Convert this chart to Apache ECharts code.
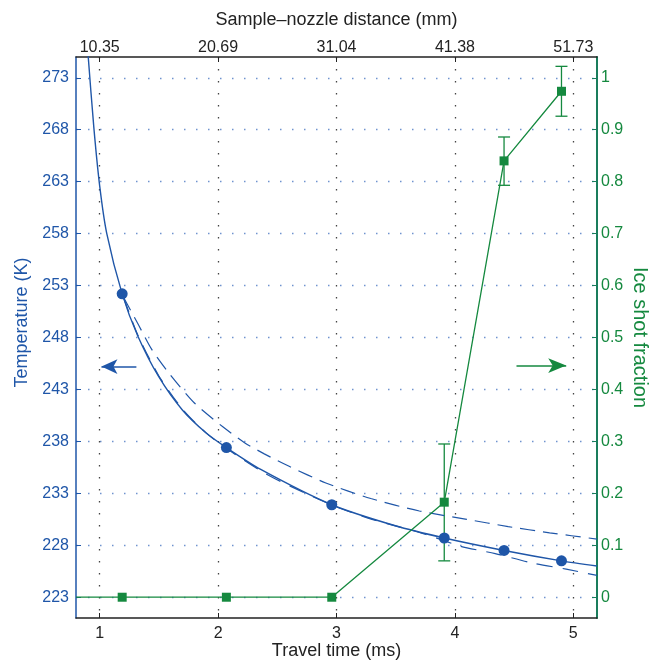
<!DOCTYPE html>
<html>
<head>
<meta charset="utf-8">
<title>Travel time vs temperature</title>
<script src="https://cdn.jsdelivr.net/npm/echarts@6/dist/echarts.min.js"></script>
<style>
  html, body { margin: 0; padding: 0; background: #fff; }
  #main { width: 651px; height: 663px; }
</style>
</head>
<body>
<div id="main"></div>
<script>
// tick positions
const timeTicks = [1, 2, 3, 4, 5];
const distLabels = ['10.35', '20.69', '31.04', '41.38', '51.73'];
const tempTicks = [223, 228, 233, 238, 243, 248, 253, 258, 263, 268, 273];
const fracTicks = [0, 0.1, 0.2, 0.3, 0.4, 0.5, 0.6, 0.7, 0.8, 0.9, 1];

// measured temperatures (blue dots)
const pointTime = [1.19, 2.07, 2.96, 3.91, 4.415, 4.9];
const pointTemp = [252.2, 237.4, 231.9, 228.7, 227.5, 226.5];

// solid fit curve
const fitTime = [0.9, 0.95, 1.0, 1.06, 1.19, 1.32, 1.5, 1.7, 1.9, 2.07, 2.36, 2.96, 3.49, 3.91, 4.415, 4.9, 5.2];
const fitTemp = [275.5, 268.3, 262.6, 258.0, 252.2, 248.2, 244.2, 241.0, 238.8, 237.4, 235.3, 231.9, 229.9, 228.7, 227.5, 226.5, 226.0];

// upper dashed model
const upperTime = [1.2, 1.324, 1.437, 1.59, 1.8, 2.04, 2.22, 2.39, 2.6, 2.91, 3.29, 3.7, 4.1, 4.45, 4.8, 5.2];
const upperTemp = [251.9, 249.3, 246.9, 244.5, 241.7, 239.4, 237.9, 236.8, 235.6, 234.0, 232.5, 231.3, 230.5, 229.8, 229.2, 228.6];

// lower dashed model
const lowerTime = [1.2, 1.32, 1.5, 1.7, 1.9, 2.1, 2.4, 2.7, 3.0, 3.3, 3.74, 4.05, 4.34, 4.65, 4.94, 5.2];
const lowerTemp = [251.9, 248.3, 244.3, 241.1, 238.8, 237.1, 234.9, 233.2, 231.7, 230.5, 229.1, 227.9, 227.2, 226.3, 225.7, 225.1];

// ice shot fraction
const iceTime = [1.19, 2.07, 2.96, 3.91, 4.415, 4.9];
const iceFrac = [0, 0, 0, 0.183, 0.84, 0.974];
const iceLow = [null, null, null, 0.07, 0.793, 0.926];
const iceHigh = [null, null, null, 0.295, 0.886, 1.022];
const iceStart = [0.8, 0];

// arrows [x0, y0, x1, y1]
const tempArrow = [1.31, 245.2, 1.015, 245.2];
const iceArrow = [4.52, 0.446, 4.94, 0.446];

const blue = '#1f56a8';
const green = '#15893f';
const teal = '#1a7d5c';
const font = "'Liberation Sans', Arial, Helvetica, sans-serif";

var myChart = echarts.init(document.getElementById('main'));

var pair = function (xs, ys) { return xs.map(function (x, i) { return [x, ys[i]]; }); };

var iceData = [{ value: iceStart, symbol: 'none' }].concat(pair(iceTime, iceFrac));
var errData = [];
iceTime.forEach(function (t, i) {
  if (iceLow[i] != null) errData.push([t, iceLow[i], iceHigh[i]]);
});

var option = {
  animation: false,
  grid: { left: 76, right: 54, top: 57, bottom: 45, containLabel: false, outerBoundsMode: 'none' },
  xAxis: [
    {
      type: 'value', position: 'bottom', min: 0.8, max: 5.2,
      name: 'Travel time (ms)', nameLocation: 'middle', nameGap: 24, nameMoveOverlap: false,
      nameTextStyle: { fontSize: 18, color: '#222', fontFamily: font },
      axisLine: { onZero: false, lineStyle: { color: '#222', width: 1.5 } },
      axisTick: { inside: true, length: 5, customValues: timeTicks, lineStyle: { color: '#222' } },
      axisLabel: { customValues: timeTicks, fontSize: 16, color: '#222', margin: 8, fontFamily: font },
      splitLine: { show: true, lineStyle: { color: '#444', type: [1.5, 10.5], width: 1.3 } }
    },
    {
      type: 'value', position: 'top', min: 0.8, max: 5.2,
      name: 'Sample\u2013nozzle distance (mm)', nameLocation: 'middle', nameGap: 28, nameMoveOverlap: false,
      nameTextStyle: { fontSize: 18, color: '#222', fontFamily: font },
      axisLine: { onZero: false, lineStyle: { color: '#222', width: 1.5 } },
      axisTick: { inside: true, length: 5, customValues: timeTicks, lineStyle: { color: '#222' } },
      axisLabel: {
        customValues: timeTicks, fontSize: 16, color: '#222', margin: 1, fontFamily: font,
        formatter: function (v) { return distLabels[Math.round(v) - 1]; }
      },
      splitLine: { show: false }
    }
  ],
  yAxis: [
    {
      type: 'value', position: 'left', min: 221, max: 275,
      name: 'Temperature (K)', nameLocation: 'middle', nameGap: 45, nameMoveOverlap: false,
      nameTextStyle: { fontSize: 18, color: blue, fontFamily: font, padding: [0, 0, 0, 30] },
      axisLine: { onZero: false, lineStyle: { color: blue, width: 1.5 } },
      axisTick: { inside: true, length: 5, customValues: tempTicks, lineStyle: { color: blue } },
      axisLabel: { customValues: tempTicks, fontSize: 16, color: blue, margin: 7, fontFamily: font },
      splitLine: { show: true, lineStyle: { color: '#6f93cf', type: [1.5, 10.5], width: 1.3 } }
    },
    {
      type: 'value', position: 'right', min: -0.04, max: 1.04, alignTicks: false,
      name: 'Ice shot fraction', nameLocation: 'middle', nameGap: 33, nameRotate: -90, nameMoveOverlap: false,
      nameTextStyle: { fontSize: 20, color: green, fontFamily: font },
      axisLine: { onZero: false, lineStyle: { color: teal, width: 2 } },
      axisTick: { inside: true, length: 5, customValues: fracTicks, lineStyle: { color: teal } },
      axisLabel: { customValues: fracTicks, fontSize: 16, color: green, margin: 4, fontFamily: font },
      splitLine: { show: false }
    }
  ],
  series: [
    {
      name: 'fit', type: 'line', data: pair(fitTime, fitTemp), showSymbol: false,
      smooth: 0.25, clip: true, lineStyle: { color: blue, width: 1.4 }, silent: true
    },
    {
      name: 'upper model', type: 'line', data: pair(upperTime, upperTemp), showSymbol: false,
      smooth: 0.25, clip: true, lineStyle: { color: blue, width: 1.2, type: [15, 8] }, silent: true
    },
    {
      name: 'lower model', type: 'line', data: pair(lowerTime, lowerTemp), showSymbol: false,
      smooth: 0.25, clip: true, lineStyle: { color: blue, width: 1.2, type: [16, 10] }, silent: true
    },
    {
      name: 'temperature', type: 'scatter', data: pair(pointTime, pointTemp),
      symbol: 'circle', symbolSize: 11, itemStyle: { color: blue, opacity: 1 }, silent: true,
      markLine: {
        silent: true, symbol: ['none', 'arrow'], symbolSize: [11, 16],
        label: { show: false }, lineStyle: { color: blue, width: 1.6, type: 'solid' },
        data: [[{ coord: [tempArrow[0], tempArrow[1]] }, { coord: [tempArrow[2], tempArrow[3]] }]]
      }
    },
    {
      name: 'ice fraction', type: 'line', yAxisIndex: 1, data: iceData, clip: true,
      symbol: 'rect', symbolSize: 9, showAllSymbol: true,
      itemStyle: { color: green, opacity: 1 }, lineStyle: { color: green, width: 1.3 }, silent: true,
      markLine: {
        silent: true, symbol: ['none', 'arrow'], symbolSize: [11, 18],
        label: { show: false }, lineStyle: { color: green, width: 1.6, type: 'solid' },
        data: [[{ coord: [iceArrow[0], iceArrow[1]] }, { coord: [iceArrow[2], iceArrow[3]] }]]
      }
    },
    {
      name: 'ice error', type: 'custom', yAxisIndex: 1, data: errData, silent: true,
      encode: { x: 0, y: [1, 2] },
      renderItem: function (params, api) {
        var x = api.value(0);
        var lo = api.coord([x, api.value(1)]);
        var hi = api.coord([x, api.value(2)]);
        var w = 6;
        var st = { stroke: green, lineWidth: 1.3 };
        return {
          type: 'group', children: [
            { type: 'line', shape: { x1: lo[0], y1: lo[1], x2: hi[0], y2: hi[1] }, style: st },
            { type: 'line', shape: { x1: lo[0] - w, y1: lo[1], x2: lo[0] + w, y2: lo[1] }, style: st },
            { type: 'line', shape: { x1: hi[0] - w, y1: hi[1], x2: hi[0] + w, y2: hi[1] }, style: st }
          ]
        };
      }
    }
  ]
};

myChart.setOption(option);
</script>
</body>
</html>
